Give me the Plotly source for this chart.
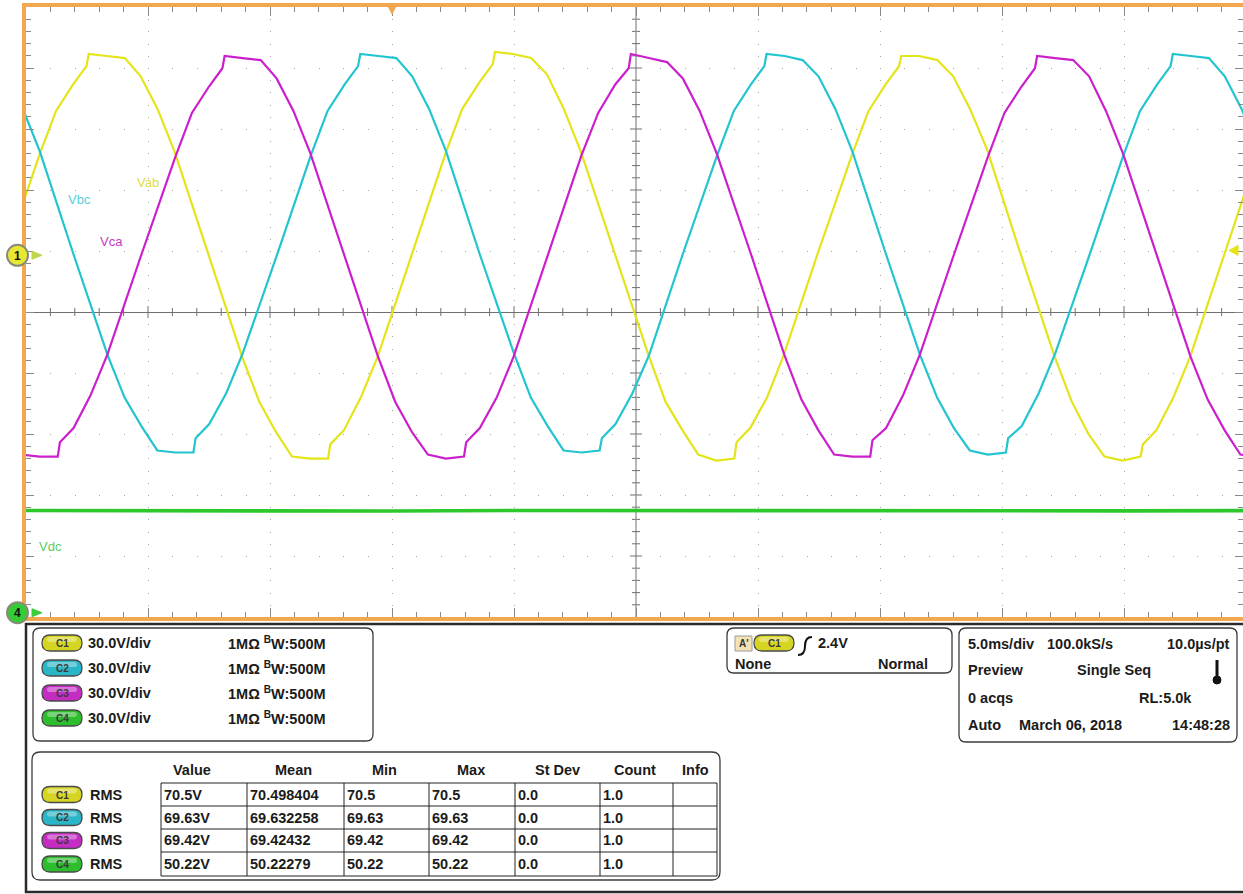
import plotly.graph_objects as go

# ---------------- acquisition data ----------------
# Line-to-line voltages: time in ms from the left edge of the screen, amplitude in volts
vab_t = [-0.85, 0.54, 1.23, 1.93, 2.48, 2.57, 3.31, 4.05, 4.70, 5.39, 6.09, 7.48, 8.86, 9.56, 10.25, 10.90, 11.64, 12.38, 12.47, 13.03, 13.72, 14.41,
         15.80, 17.19, 17.88, 18.58, 19.13, 19.22, 19.96, 20.70, 21.35, 22.04, 22.74, 24.13, 25.51, 26.21, 26.90, 27.55, 28.29, 29.03, 29.12, 29.68, 30.37, 31.06,
         32.45, 33.84, 34.53, 35.23, 35.78, 35.87, 36.61, 37.35, 38.00, 38.69, 39.39, 40.78, 42.16, 42.86, 43.55, 44.20, 44.94, 45.68, 45.77, 46.33, 47.02, 47.71,
         49.10, 50.49]
vab_v = [0, 49, 71, 84, 93, 99, 98, 97, 88, 72, 51, 0, -50, -72, -87, -99, -100, -100, -93, -86, -70, -50,
         0, 50, 72, 85, 94, 100, 99, 97, 89, 72, 51, 1, -49, -72, -86, -98, -101, -100, -92, -85, -70, -49,
         1, 49, 71, 84, 93, 98, 98, 96, 88, 72, 52, 0, -50, -72, -88, -99, -101, -99, -93, -86, -70, -50,
         0, 50]

vbc_t = [-0.82, -0.13, 0.57, 1.96, 3.34, 4.04, 4.73, 5.38, 6.12, 6.86, 6.95, 7.51, 8.20, 8.89,
         10.28, 11.67, 12.36, 13.06, 13.61, 13.70, 14.44, 15.18, 15.83, 16.52, 17.22, 18.61, 19.99, 20.69, 21.38, 22.03, 22.77, 23.51, 23.60, 24.16, 24.85, 25.54,
         26.93, 28.32, 29.01, 29.71, 30.26, 30.35, 31.09, 31.83, 32.48, 33.17, 33.87, 35.26, 36.64, 37.34, 38.03, 38.68, 39.42, 40.16, 40.25, 40.81, 41.50, 42.19,
         43.58, 44.97, 45.66, 46.36, 46.91, 47.00, 47.74, 48.48, 49.13, 49.82, 50.52]
vbc_v = [88, 72, 51, 0, -49, -70, -84, -96, -97, -97, -90, -83, -68, -48,
         0, 49, 71, 84, 93, 99, 98, 97, 88, 72, 51, 0, -48, -70, -84, -96, -97, -96, -90, -83, -68, -49,
         1, 49, 71, 84, 93, 99, 98, 96, 88, 72, 51, 0, -49, -70, -85, -96, -98, -97, -90, -84, -68, -48,
         0, 49, 71, 84, 93, 99, 98, 97, 88, 72, 51]

vca_t = [-2.22, -1.52, -0.83, -0.18, 0.56, 1.30, 1.39, 1.95, 2.64, 3.33,
         4.72, 6.11, 6.80, 7.50, 8.05, 8.14, 8.88, 9.62, 10.27, 10.96, 11.66, 13.05, 14.43, 15.13, 15.82, 16.47, 17.21, 17.95, 18.04, 18.60, 19.29, 19.98,
         21.37, 22.76, 23.45, 24.15, 24.70, 24.79, 25.53, 26.27, 26.92, 27.61, 28.31, 29.70, 31.08, 31.78, 32.47, 33.12, 33.86, 34.60, 34.69, 35.25, 35.94, 36.63,
         38.02, 39.41, 40.10, 40.80, 41.35, 41.44, 42.18, 42.92, 43.57, 44.26, 44.96, 46.35, 47.73, 48.43, 49.12, 49.77, 50.51]
vca_v = [-50, -71, -86, -98, -99, -99, -92, -85, -69, -49,
         0, 48, 70, 83, 92, 98, 97, 96, 87, 71, 50, 0, -50, -72, -87, -98, -100, -99, -92, -85, -70, -50,
         0, 49, 70, 84, 92, 99, 97, 95, 87, 71, 50, 1, -49, -71, -86, -98, -99, -99, -91, -85, -69, -49,
         0, 48, 70, 83, 92, 98, 97, 96, 88, 71, 50, 0, -50, -71, -86, -98, -99]

# DC link voltage
vdc_t = [0, 5, 10, 15, 20, 25, 30, 35, 40, 45, 50]
vdc_v = [50.3, 50.1, 50.2, 50.0, 50.3, 50.2, 50.1, 50.3, 50.2, 50.1, 50.2]

# ---------------- channel setup ----------------
channels = ["C1", "C2", "C3", "C4"]
trace_names = ["Vab", "Vbc", "Vca", "Vdc"]
volts_per_div = [30.0, 30.0, 30.0, 30.0]
offset_div = [0.93, 0.93, 0.93, -4.93]
ch_impedance = ["1MΩ", "1MΩ", "1MΩ", "1MΩ"]
ch_bandwidth = ["500M", "500M", "500M", "500M"]
trace_colors = ["#e4e41a", "#22c5cf", "#cc1fcc", "#2cc82c"]
pill_colors = ["#d6d622", "#2ab6c6", "#c42cc4", "#2cbe2c"]
label_colors = ["#dede3a", "#55d0da", "#c23cc2", "#5ccc5c"]

ms_per_div = 5.0
trig_time_ms = 15.0
trig_level_v = 2.4
trig_source = "C1"
trig_mode = ["None", "Normal"]

timebase_info = [["5.0ms/div", "100.0kS/s", "10.0µs/pt"],
                 ["Preview", "Single Seq", ""],
                 ["0 acqs", "RL:5.0k", ""],
                 ["Auto", "March 06, 2018", "14:48:28"]]

# ---------------- measurement table ----------------
meas_headers = ["Value", "Mean", "Min", "Max", "St Dev", "Count", "Info"]
meas_param = ["RMS", "RMS", "RMS", "RMS"]
meas_value = ["70.5V", "69.63V", "69.42V", "50.22V"]
meas_mean = ["70.498404", "69.632258", "69.42432", "50.22279"]
meas_min = ["70.5", "69.63", "69.42", "50.22"]
meas_max = ["70.5", "69.63", "69.42", "50.22"]
meas_sdev = ["0.0", "0.0", "0.0", "0.0"]
meas_count = ["1.0", "1.0", "1.0", "1.0"]
meas_info = ["", "", "", ""]

# ---------------- screen geometry (pixels) ----------------
W, H = 1243, 894
ML, MT = 26, 7
DIV_W, DIV_H = 122, 61
N_VDIV = 10
PW = W - ML
PH = N_VDIV * DIV_H
x_max = PW / DIV_W * ms_per_div

ORANGE = "#f1a84e"
TICK = "#8a8a8a"
GRID = "#a4a4a4"
CROSS = "#707070"
FONT = "Liberation Sans, Arial, sans-serif"
INK = "#1b1b1b"


def px(x):
    return (x - ML) / PW


def py(y):
    return (MT + PH - y) / PH


def div_to_pix(d):
    return MT + PH / 2 - d * DIV_H


def P(x, y):
    return f"{px(x):.5f},{py(y):.5f}"


def rrect_path(x0, y0, x1, y1, r):
    return (f"M{P(x0 + r, y0)} L{P(x1 - r, y0)} Q{P(x1, y0)} {P(x1, y0 + r)} "
            f"L{P(x1, y1 - r)} Q{P(x1, y1)} {P(x1 - r, y1)} L{P(x0 + r, y1)} "
            f"Q{P(x0, y1)} {P(x0, y1 - r)} L{P(x0, y0 + r)} Q{P(x0, y0)} {P(x0 + r, y0)} Z")


shapes = []
ann = []


def text(x, y, s, anchor="left", size=14.5, color=INK, bold=True):
    ann.append(dict(xref="paper", yref="paper", x=px(x), y=py(y),
                    text=f"<b>{s}</b>" if bold else s, xanchor=anchor, yanchor="middle",
                    showarrow=False, borderpad=0,
                    font=dict(family=FONT, size=size, color=color)))


def pill(xc, yc, color, lab):
    shapes.append(dict(type="path", xref="paper", yref="paper", layer="above",
                       path=rrect_path(xc - 20, yc - 8, xc + 20, yc + 8, 8),
                       fillcolor=color, line=dict(color="#4a4a4a", width=1.3)))
    shapes.append(dict(type="path", xref="paper", yref="paper", layer="above",
                       path=rrect_path(xc - 15, yc - 6, xc + 15, yc - 1, 2.5),
                       fillcolor="rgba(255,255,255,0.35)", line=dict(width=0)))
    text(xc, yc + 0.5, lab, anchor="center", size=10, color="#3a3a3a")


fig = go.Figure()

# ---------------- waveforms ----------------
series = [(vab_t, vab_v), (vbc_t, vbc_v), (vca_t, vca_v), (vdc_t, vdc_v)]
draw_order = [3, 0, 1, 2]
for i in draw_order:
    t, v = series[i]
    fig.add_trace(go.Scatter(
        x=t, y=[val / volts_per_div[i] + offset_div[i] for val in v],
        mode="lines", name=trace_names[i], hoverinfo="skip",
        line=dict(color=trace_colors[i], width=3.6 if i == 3 else 2.2)))

# trace labels on screen
trace_label_pos = [(5.0, 2.13), (2.2, 1.84), (3.5, 1.15), (1.0, -3.85)]
for i, (lx, ly) in enumerate(trace_label_pos):
    ann.append(dict(xref="x", yref="y", x=lx, y=ly, text=trace_names[i], showarrow=False,
                    font=dict(family=FONT, size=13, color=label_colors[i])))

# ---------------- graticule frame and centre cross ----------------
# orange frame on the left edge (top and bottom come from the x axis lines)
shapes.append(dict(type="line", xref="paper", yref="paper", layer="above",
                   x0=px(ML - 2), x1=px(ML - 2), y0=py(MT - 4), y1=py(MT + PH + 4),
                   line=dict(color=ORANGE, width=4)))

t_mid = 5 * ms_per_div
shapes.append(dict(type="line", xref="x", yref="paper", x0=t_mid, x1=t_mid, y0=0, y1=1,
                   line=dict(color=CROSS, width=1), layer="below"))
ms_per_px = ms_per_div / DIV_W
div_per_px = 1 / DIV_H
for k in range(1, 50):
    t = k * ms_per_div / 5
    if abs(t - t_mid) > 1e-9:
        half = (6 if k % 5 == 0 else 4) * div_per_px
        shapes.append(dict(type="line", xref="x", yref="y", x0=t, x1=t, y0=-half, y1=half,
                           line=dict(color=CROSS, width=1), layer="below"))
    d = -5 + k * 0.2
    if abs(d) > 1e-9:
        half = (6 if k % 5 == 0 else 4) * ms_per_px
        shapes.append(dict(type="line", xref="x", yref="y", x0=t_mid - half, x1=t_mid + half, y0=d, y1=d,
                           line=dict(color=CROSS, width=1), layer="below"))

# trigger position marker (top) and trigger level marker (right edge)
tri_half = 5 * ms_per_px
shapes.append(dict(type="path", xref="x", yref="paper", layer="above",
                   path=f"M{trig_time_ms - tri_half},{py(4):.5f} L{trig_time_ms + tri_half},{py(4):.5f} "
                        f"L{trig_time_ms},{py(14):.5f} Z",
                   fillcolor=ORANGE, line=dict(color=ORANGE, width=1)))
ly = div_to_pix(trig_level_v / volts_per_div[0] + offset_div[0])
shapes.append(dict(type="path", xref="paper", yref="paper", layer="above",
                   path=f"M{P(1229, ly)} L{P(1238, ly - 5)} L{P(1238, ly + 5)} Z",
                   fillcolor=trace_colors[0], line=dict(color=trace_colors[0], width=1)))

# channel ground markers on the left edge
for ci, lab, fill, arrow in [(0, "1", "#e8e832", "#bcd84a"), (3, "4", "#34cc34", "#3ccc3c")]:
    gy = div_to_pix(offset_div[ci])
    shapes.append(dict(type="circle", xref="paper", yref="paper", layer="above",
                       x0=px(7), x1=px(28), y0=py(gy - 10.5), y1=py(gy + 10.5),
                       fillcolor=fill, line=dict(color="#8a8a7a", width=2)))
    shapes.append(dict(type="path", xref="paper", yref="paper", layer="above",
                       path=f"M{P(32, gy - 4)} L{P(42, gy)} L{P(32, gy + 4)} Z",
                       fillcolor=arrow, line=dict(color=arrow, width=1)))
    text(17.5, gy + 0.5, lab, anchor="center", size=12, color="#111")

# ---------------- info area ----------------
shapes.append(dict(type="rect", xref="paper", yref="paper", layer="above",
                   x0=px(26), x1=px(1250), y0=py(624), y1=py(892),
                   line=dict(color="#2a2a2a", width=2.5), fillcolor="rgba(0,0,0,0)"))

panel_line = dict(color="#3c3c3c", width=1.3)
for (x0, y0, x1, y1, r) in [(33, 628, 373, 741, 7), (727, 628, 952, 673, 7),
                            (959, 628, 1237, 742, 7), (32, 752, 720, 880, 8)]:
    shapes.append(dict(type="path", xref="paper", yref="paper", layer="above",
                       path=rrect_path(x0, y0, x1, y1, r), line=panel_line,
                       fillcolor="rgba(0,0,0,0)"))

# channel settings
ch_rows = [643, 668, 693, 718]
for i, ch in enumerate(channels):
    yy = ch_rows[i]
    pill(62, yy, pill_colors[i], ch)
    text(87, yy, f"{volts_per_div[i]:.1f}V/div")
    text(227, yy, f"{ch_impedance[i]} <sup>B</sup>W:{ch_bandwidth[i]}")

# trigger settings
shapes.append(dict(type="rect", xref="paper", yref="paper", layer="above",
                   x0=px(735), x1=px(752), y0=py(636), y1=py(651),
                   fillcolor="#f3e3b4", line=dict(color="#9a9a9a", width=1)))
text(743.5, 643.5, "A'", anchor="center", size=10, color="#333")
pill(774, 643, pill_colors[0], trig_source)
shapes.append(dict(type="path", xref="paper", yref="paper", layer="above",
                   path=f"M{P(798, 655)} Q{P(805, 655)} {P(805, 646)} Q{P(805, 637)} {P(812, 637)}",
                   line=dict(color="#111", width=2), fillcolor="rgba(0,0,0,0)"))
text(817, 643, f"{trig_level_v:.1f}V")
text(734, 664, trig_mode[0])
text(929, 664, trig_mode[1], anchor="right")

# timebase / acquisition
tb_rows = [644, 670, 698, 725]
tb_cols = [[(967, "left"), (1046, "left"), (1231, "right")],
           [(967, "left"), (1076, "left"), (0, "left")],
           [(967, "left"), (1138, "left"), (0, "left")],
           [(967, "left"), (1018, "left"), (1231, "right")]]
for r, row in enumerate(timebase_info):
    for c, s in enumerate(row):
        if s:
            xx, anc = tb_cols[r][c]
            text(xx, tb_rows[r], s, anchor=anc)
# thermometer glyph
shapes.append(dict(type="line", xref="paper", yref="paper", layer="above",
                   x0=px(1217), x1=px(1217), y0=py(660), y1=py(678), line=dict(color="#111", width=3)))
shapes.append(dict(type="circle", xref="paper", yref="paper", layer="above",
                   x0=px(1213), x1=px(1221), y0=py(676), y1=py(684),
                   fillcolor="#111", line=dict(color="#111", width=1)))

# measurement table
col_edges = [161, 247, 344, 429, 515, 600, 673, 717]
row_edges = [783, 806, 829, 852, 876]
header_x = [192, 293, 384, 471, 557, 635, 695]
for hx, hd in zip(header_x, meas_headers):
    text(hx, 770, hd, anchor="center")
for xe in col_edges:
    shapes.append(dict(type="line", xref="paper", yref="paper", layer="above",
                       x0=px(xe), x1=px(xe), y0=py(row_edges[0]), y1=py(row_edges[-1]),
                       line=dict(color="#222", width=1)))
for ye in row_edges:
    shapes.append(dict(type="line", xref="paper", yref="paper", layer="above",
                       x0=px(col_edges[0]), x1=px(col_edges[-1]), y0=py(ye), y1=py(ye),
                       line=dict(color="#222", width=1)))
columns = [meas_value, meas_mean, meas_min, meas_max, meas_sdev, meas_count, meas_info]
for i, ch in enumerate(channels):
    yy = (row_edges[i] + row_edges[i + 1]) / 2
    pill(62, yy, pill_colors[i], ch)
    text(89, yy, meas_param[i])
    for c, col in enumerate(columns):
        if col[i]:
            text(col_edges[c] + 2, yy, col[i])

# ---------------- axes / layout ----------------
fig.update_xaxes(range=[0, x_max], showticklabels=False, ticks="inside", ticklen=9, tickwidth=1,
                 tickcolor=TICK, tick0=0, dtick=ms_per_div, showline=True, linecolor=ORANGE, linewidth=4,
                 mirror="allticks", showgrid=True, gridcolor=GRID, gridwidth=1.2,
                 griddash=f"1px,{DIV_H / 5 - 1:.1f}px", zeroline=False, fixedrange=True,
                 minor=dict(dtick=ms_per_div / 5, ticks="inside", ticklen=5, tickcolor=TICK, showgrid=False))
fig.update_yaxes(range=[-N_VDIV / 2, N_VDIV / 2], showticklabels=False, ticks="inside", ticklen=8, tickwidth=1,
                 tickcolor=TICK, tick0=0, dtick=1, showline=False,
                 mirror="allticks", showgrid=True, gridcolor=GRID, gridwidth=1.2,
                 griddash=f"1px,{DIV_W / 5 - 1:.1f}px", zeroline=True, zerolinecolor=CROSS,
                 zerolinewidth=1, fixedrange=True,
                 minor=dict(dtick=0.2, ticks="inside", ticklen=5, tickcolor=TICK, showgrid=False))

fig.update_layout(width=W, height=H, autosize=False,
                  margin=dict(l=ML, r=0, t=MT, b=H - MT - PH, pad=0),
                  plot_bgcolor="white", paper_bgcolor="white", showlegend=False,
                  shapes=shapes, annotations=ann, font=dict(family=FONT))

fig.write_html("out.html", config={"displayModeBar": False})
